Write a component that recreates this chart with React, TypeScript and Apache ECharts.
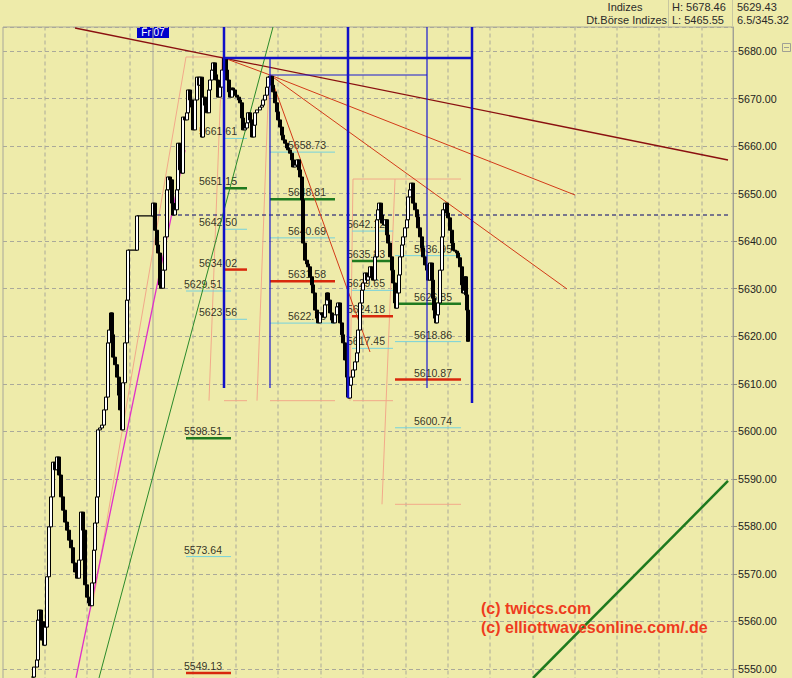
import React, { useEffect, useRef } from "react";
import * as echarts from "echarts";

const FONT = '"Liberation Sans", Arial, sans-serif';
const BG = "#EEEBAA";

// price path: [t, close]
const priceBars: number[][] = [
  [33, 5548.3], [34, 5550.4], [37, 5551.9], [38, 5560.3], [39, 5562.4], [41, 5556.1], [43, 5559.9], [44, 5555.0],
  [45, 5558.8], [47, 5569.4], [49, 5579.9], [51, 5586.2], [53, 5593.5], [55, 5591.9], [57, 5594.6], [59, 5590.8],
  [61, 5586.2], [63, 5583.4], [65, 5580.9], [67, 5579.2], [69, 5577.1], [71, 5575.5], [73, 5572.3], [75, 5570.4],
  [77, 5569.1], [79, 5572.9], [81, 5583.0], [83, 5579.2], [85, 5567.7], [87, 5565.1], [89, 5563.9], [90, 5563.3],
  [92, 5568.1], [94, 5575.0], [95, 5580.7], [97, 5586.2], [98, 5600.3], [100, 5600.7], [102, 5601.3], [104, 5604.5],
  [106, 5607.2], [108, 5618.6], [109, 5621.3], [111, 5624.9], [112, 5620.3], [113, 5615.6], [115, 5614.0], [117, 5611.4],
  [119, 5607.6], [120, 5604.5], [122, 5600.3], [123, 5610.2], [125, 5618.6], [127, 5627.6], [128, 5638.1], [137, 5645.3],
  [153, 5648.0], [155, 5642.3], [157, 5639.2], [158, 5637.5], [160, 5630.8], [161, 5630.1], [163, 5633.9], [165, 5640.9],
  [167, 5650.8], [168, 5653.5], [170, 5652.9], [172, 5648.0], [173, 5645.5], [175, 5646.6], [177, 5650.8], [178, 5660.6],
  [180, 5655.0], [182, 5654.3], [183, 5666.1], [185, 5665.5], [187, 5667.0], [188, 5671.8], [190, 5669.7], [192, 5668.2],
  [193, 5663.4], [195, 5669.7], [197, 5674.5], [199, 5672.8], [200, 5674.5], [202, 5661.9], [203, 5670.3], [205, 5668.6],
  [207, 5667.0], [209, 5671.8], [210, 5673.9], [212, 5676.0], [213, 5677.5], [215, 5675.0], [216, 5673.9], [218, 5670.3],
  [220, 5672.4], [222, 5676.0], [224, 5678.5], [226, 5676.0], [227, 5673.9], [229, 5671.4], [230, 5670.3], [232, 5672.2],
  [233, 5671.8], [235, 5670.7], [237, 5670.3], [239, 5669.7], [240, 5669.1], [242, 5665.9], [243, 5663.4], [245, 5663.8],
  [247, 5664.9], [248, 5667.0], [250, 5665.5], [252, 5661.9], [254, 5664.4], [255, 5667.0], [257, 5667.6], [260, 5668.2],
  [262, 5668.6], [263, 5669.7], [265, 5670.7], [267, 5672.4], [268, 5674.5], [270, 5674.7], [272, 5672.8], [273, 5671.4],
  [275, 5669.1], [277, 5667.2], [278, 5665.5], [280, 5664.0], [282, 5662.3], [283, 5661.3], [285, 5660.6], [287, 5659.6],
  [288, 5659.2], [290, 5658.5], [292, 5657.1], [293, 5655.6], [295, 5656.0], [297, 5657.1], [299, 5655.0], [300, 5653.5],
  [302, 5648.7], [303, 5639.6], [305, 5636.0], [307, 5635.2], [308, 5634.6], [310, 5632.5], [312, 5630.8], [313, 5629.1],
  [315, 5625.5], [317, 5623.8], [318, 5622.8], [320, 5624.9], [322, 5624.5], [323, 5624.0], [325, 5626.6], [327, 5629.1],
  [328, 5627.6], [330, 5624.9], [332, 5623.4], [333, 5622.8], [335, 5624.5], [337, 5626.2], [338, 5627.0], [340, 5622.8],
  [342, 5620.3], [343, 5618.6], [345, 5615.0], [347, 5611.4], [348, 5607.2], [349, 5607.0], [350, 5609.7], [351, 5611.4],
  [353, 5612.9], [355, 5614.6], [357, 5616.5], [358, 5621.3], [360, 5627.0], [362, 5629.7], [363, 5631.2], [365, 5633.3],
  [367, 5631.8], [368, 5632.5], [370, 5634.6], [372, 5632.3], [373, 5631.8], [375, 5636.7], [377, 5644.5], [378, 5646.6],
  [379, 5648.0], [381, 5645.5], [382, 5643.8], [384, 5643.4], [385, 5644.5], [387, 5641.3], [388, 5639.6], [390, 5636.7],
  [392, 5633.9], [393, 5631.2], [395, 5627.0], [396, 5625.9], [397, 5629.1], [399, 5632.9], [400, 5636.7], [402, 5639.2],
  [403, 5640.9], [405, 5642.8], [407, 5644.5], [408, 5649.3], [410, 5650.8], [411, 5652.2], [413, 5648.0], [415, 5646.6],
  [417, 5645.1], [418, 5642.8], [420, 5640.9], [422, 5638.6], [423, 5636.7], [425, 5635.0], [427, 5633.9], [428, 5631.8],
  [430, 5635.4], [432, 5631.8], [433, 5628.0], [434, 5625.5], [435, 5623.8], [436, 5622.8], [437, 5624.5], [438, 5627.0],
  [440, 5633.9], [442, 5640.9], [443, 5646.6], [445, 5648.0], [447, 5645.9], [448, 5644.9], [450, 5642.3], [452, 5639.6],
  [453, 5638.1], [455, 5637.9], [457, 5637.5], [458, 5636.5], [460, 5634.6], [462, 5630.8], [463, 5629.1], [464, 5629.7],
  [465, 5632.5], [466, 5628.7], [467, 5625.5], [468, 5618.92],
];
const overnightStep = [[128, 5638.1], [137, 5638.1], [137, 5645.3], [153, 5645.3]];

// axis settings
const T_MIN = 3, T_MAX = 733;
const P_MIN = 5540, P_MAX = 5685.05, P_STEP = 10;
const gridT = [45, 87, 130, 193, 236, 278, 321, 363, 406, 448, 490, 533, 575, 617, 659, 702];
const sessionBreakT = 153;

// trend lines [t1, p1, t2, p2]
const brownLine = [75, 5684.84, 728, 5657.07];
const highToPivot = [224, 5678.53, 270, 5674.95];
const fanOrigin = [270, 5674.95];
const fanTargets = [[575, 5649.71], [567, 5629.93], [370, 5616.68]];
const greenThin = [99, 5548.1, 273, 5685.05];
const greenThick = [533, 5548.1, 728, 5589.55];
const magentaLine = [76, 5548.1, 185, 5659.17];
const paleLines = [
  [93, 5564.09, 186, 5678.74], [186, 5678.74, 223, 5678.74], [222, 5678.74, 209, 5606.44],
  [269, 5674.74, 257, 5606.44], [224, 5606.44, 247, 5606.44], [270, 5606.44, 335, 5606.44],
  [353, 5606.44, 393, 5606.44], [353, 5653.07, 461, 5653.07], [353, 5653.07, 350, 5606.44],
  [395, 5653.07, 382, 5584.64], [395, 5584.64, 461, 5584.64],
];
const prevClose = [157, 730, 5645.5];
// blue time frames: [t, pTop, pBottom]
const blueThickV = [[224, 5685.05, 5609.11], [348, 5685.05, 5607.0], [472, 5685.05, 5605.95]];
const blueThinV = [[270, 5678.53, 5609.11], [427, 5685.05, 5609.11]];
const blueThickH = [224, 472, 5678.53];
const blueThinH = [270, 427, 5674.95];

// fibonacci levels
const fibGroups = [
  { values: [5661.61, 5651.15, 5642.5, 5634.02, 5623.56], kinds: ["c", "g", "c", "r", "c"], span: [224, 247], labelT: 218 },
  { values: [5629.51, 5598.51, 5573.64, 5549.13], kinds: ["c", "g", "c", "r"], span: [186, 231], labelT: 203 },
  { values: [5658.73, 5648.81, 5640.69, 5631.58, 5622.76], kinds: ["c", "g", "c", "r", "c"], span: [270, 335], labelT: 307 },
  { values: [5642.12, 5635.83, 5629.65, 5624.18, 5617.45], kinds: ["c", "g", "c", "r", "c"], span: [352, 393], labelT: 366 },
  { values: [5636.95, 5626.85, 5618.86, 5610.87, 5600.74], kinds: ["c", "g", "c", "r", "c"], span: [395, 461], labelT: 433 },
];
const lastPrice = 5618.92;

function seg(a: number[], color: string, width: number, z: number, type: any = "solid") {
  return {
    type: "line",
    data: [[a[0], a[1]], [a[2], a[3]]],
    symbol: "none",
    silent: true,
    z,
    lineStyle: { color, width, type },
  };
}

function buildOption() {
  const series: any[] = [];
  gridT.forEach((t) => series.push(seg([t, P_MIN, t, P_MAX], "#aaa99a", 1, 1, [4, 3])));
  series.push(seg([sessionBreakT, P_MIN, sessionBreakT, P_MAX], "#a9a89a", 1, 1));

  paleLines.forEach((l) => series.push(seg(l, "#F2A98A", 1, 2)));
  series.push(seg([prevClose[0], prevClose[2], prevClose[1], prevClose[2]], "#000070", 1, 2, [4, 3]));

  const kindStyle: any = { c: ["#76D2DC", 1], g: ["#1F7A1F", 2.5], r: ["#D8280C", 2.5] };
  const labelData: any[] = [];
  fibGroups.forEach((g) => {
    g.values.forEach((v, i) => {
      const st = kindStyle[g.kinds[i]];
      series.push(seg([g.span[0], v, g.span[1], v], st[0], st[1], 3));
      labelData.push([g.labelT, v]);
    });
  });
  series.push({
    type: "scatter",
    data: labelData,
    symbol: "circle",
    symbolSize: 1,
    itemStyle: { color: "rgba(0,0,0,0)" },
    silent: true,
    z: 4,
    label: {
      show: true,
      position: "top",
      distance: 1,
      color: "#000",
      fontSize: 10.5,
      fontFamily: FONT,
      formatter: (p: any) => p.value[1].toFixed(2),
    },
  });

  series.push(seg(brownLine, "#8A1010", 1.3, 5));
  series.push(seg(highToPivot, "#D23A18", 1, 5));
  fanTargets.forEach((f) => series.push(seg([fanOrigin[0], fanOrigin[1], f[0], f[1]], "#D23A18", 1, 5)));
  series.push(seg(greenThin, "#2A8A2A", 1, 5));
  series.push(seg(greenThick, "#1E7A1E", 2.5, 5));
  series.push(seg(magentaLine, "#E030C8", 1.3, 5));

  series.push(seg([overnightStep[0][0], overnightStep[0][1], overnightStep[1][0], overnightStep[1][1]], "#000", 1.2, 6));
  series.push(seg([overnightStep[1][0], overnightStep[1][1], overnightStep[2][0], overnightStep[2][1]], "#000", 1.2, 6));
  series.push(seg([overnightStep[2][0], overnightStep[2][1], overnightStep[3][0], overnightStep[3][1]], "#000", 1.2, 6));

  const candleData = priceBars.map(([t, c], i) => {
    const o = i === 0 ? c : priceBars[i - 1][1];
    return [t, o, c, Math.min(o, c), Math.max(o, c)];
  });
  series.push({
    type: "candlestick",
    data: candleData,
    encode: { x: 0, y: [1, 2, 3, 4] },
    barWidth: 4,
    silent: true,
    z: 6,
    itemStyle: { color: "#ffffff", color0: "#000000", borderColor: "#000000", borderColor0: "#000000", borderWidth: 1 },
    markLine: {
      silent: true,
      symbol: "none",
      lineStyle: { opacity: 0 },
      label: {
        show: true,
        position: "end",
        distance: 2,
        formatter: () => lastPrice.toFixed(2),
        backgroundColor: "#0000EE",
        color: "#ffffff",
        padding: [1, 6, 1, 2],
        fontSize: 10.7,
        fontFamily: FONT,
      },
      data: [{ yAxis: lastPrice }],
    },
  });

  blueThickV.forEach((b) => series.push(seg([b[0], b[1], b[0], b[2]], "#1010C8", 2.5, 7)));
  blueThinV.forEach((b) => series.push(seg([b[0], b[1], b[0], b[2]], "#1818D0", 1.2, 7)));
  series.push(seg([blueThickH[0], blueThickH[2], blueThickH[1], blueThickH[2]], "#1010C8", 2.5, 7));
  series.push(seg([blueThinH[0], blueThinH[2], blueThinH[1], blueThinH[2]], "#1818D0", 1, 7));

  const hdr = { fontSize: 11, fontFamily: FONT, fill: "#2a2a2a" };
  return {
    animation: false,
    backgroundColor: BG,
    grid: {
      left: T_MIN, right: 792 - T_MAX, top: 27, height: 689.5,
      outerBoundsMode: "none", containLabel: false,
      show: true, borderColor: "#a8a79a", borderWidth: 1,
    },
    xAxis: { type: "value", min: T_MIN, max: T_MAX, show: false },
    yAxis: {
      type: "value",
      position: "right",
      min: P_MIN,
      max: P_MAX,
      interval: P_STEP,
      axisLine: { show: true, lineStyle: { color: "#a0a095" } },
      axisTick: { show: true, length: 4, lineStyle: { color: "#8a8a80" } },
      axisLabel: {
        showMaxLabel: false,
        showMinLabel: false,
        margin: 5,
        color: "#222",
        fontSize: 10.7,
        fontFamily: FONT,
        formatter: (v: number) => v.toFixed(2),
      },
      splitLine: { show: true, lineStyle: { color: "#aaa99a", type: [4, 3] } },
    },
    graphic: [
      { type: "line", shape: { x1: 668.5, y1: 0, x2: 668.5, y2: 27 }, style: { stroke: "#c8c6a0", lineWidth: 1 } },
      { type: "line", shape: { x1: 732.5, y1: 0, x2: 732.5, y2: 27 }, style: { stroke: "#c8c6a0", lineWidth: 1 } },
      { type: "text", x: 625, y: 7, style: { ...hdr, text: "Indizes", align: "center", verticalAlign: "middle" } },
      { type: "text", x: 667, y: 20, style: { ...hdr, text: "Dt.Börse Indizes", align: "right", verticalAlign: "middle" } },
      { type: "text", x: 672, y: 7, style: { ...hdr, text: "H: 5678.46", align: "left", verticalAlign: "middle" } },
      { type: "text", x: 672, y: 20, style: { ...hdr, text: "L: 5465.55", align: "left", verticalAlign: "middle" } },
      { type: "text", x: 737, y: 7, style: { ...hdr, text: "5629.43", align: "left", verticalAlign: "middle" } },
      { type: "text", x: 737, y: 20, style: { ...hdr, text: "6.5/345.32", align: "left", verticalAlign: "middle" } },
      {
        type: "group", x: 137, y: 27, z: 100,
        children: [
          { type: "rect", shape: { x: 0, y: 0, width: 32, height: 11 }, style: { fill: "#0000CC" } },
          { type: "text", x: 16, y: 5.5, style: { text: "Fr\u00A007", fill: "#fff", fontSize: 10, fontFamily: FONT, align: "center", verticalAlign: "middle" } },
        ],
      },
      { type: "rect", shape: { x: 782.5, y: 43.5, width: 8, height: 8 }, style: { fill: "none", stroke: "#a0a095", lineWidth: 1 } },
      { type: "line", shape: { x1: 784, y1: 47.5, x2: 789, y2: 47.5 }, style: { stroke: "#a0a095", lineWidth: 1 } },
      { type: "text", x: 481, y: 608, z: 100, style: { text: "(c) twiccs.com", fill: "#EE3C1E", fontSize: 16, fontWeight: "bold", fontFamily: FONT, verticalAlign: "middle" } },
      { type: "text", x: 481, y: 627, z: 100, style: { text: "(c) elliottwavesonline.com/.de", fill: "#EE3C1E", fontSize: 16, fontWeight: "bold", fontFamily: FONT, verticalAlign: "middle" } },
    ],
    series,
  };
}

export default function App() {
  const ref = useRef<HTMLDivElement>(null);
  useEffect(() => {
    const chart = echarts.init(ref.current!, null, { renderer: "svg" });
    chart.setOption(buildOption() as any);
    return () => chart.dispose();
  }, []);
  return <div ref={ref} style={{ position: "fixed", left: 0, top: 0, width: 792, height: 678, background: BG }} />;
}
